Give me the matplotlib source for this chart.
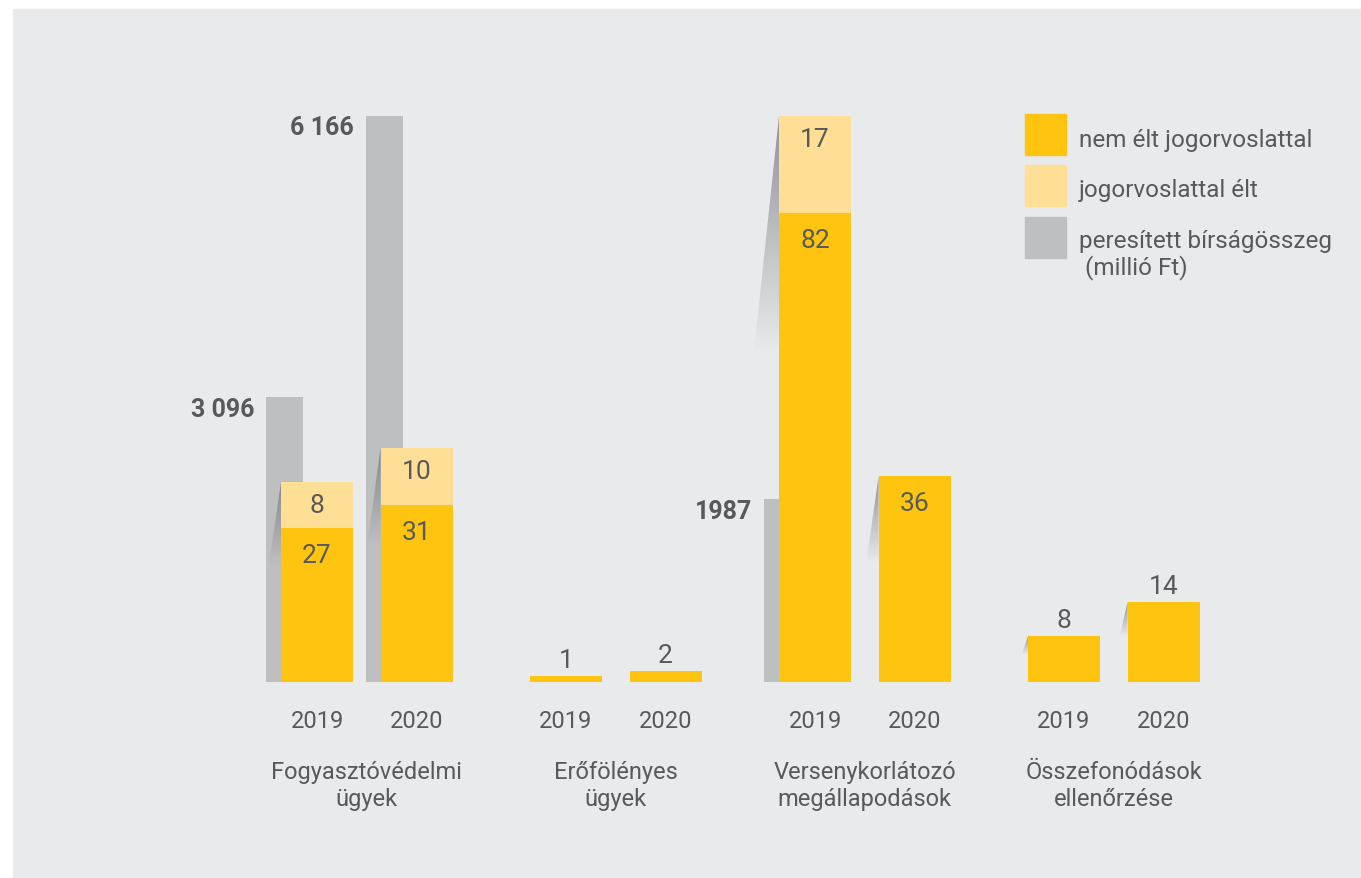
import numpy as np
import matplotlib.pyplot as plt
from matplotlib.patches import Rectangle, Polygon

plt.rcParams['font.family'] = ['Roboto', 'DejaVu Sans']

categories = [['Fogyasztóvédelmi', 'ügyek'],
              ['Erőfölényes', 'ügyek'],
              ['Versenykorlátozó', 'megállapodások'],
              ['Összefonódások', 'ellenőrzése']]
years = ['2019', '2020']

# one value per (category, year), in the order of the bars
no_appeal = [27, 31, 1, 2, 82, 36, 8, 14]
appeal = [8, 10, 0, 0, 17, 0, 0, 0]
fines = [3096, 6166, 0, 0, 1987, 0, 0, 0]
fine_labels = ['3 096', '6 166', '', '', '1987', '', '', '']

legend_labels = ['nem élt jogorvoslattal', 'jogorvoslattal élt',
                 'peresített bírságösszeg\n (millió Ft)']

YELLOW = '#fec40f'
LIGHT = '#ffdf95'
GREY = '#bebfc1'
PANEL = '#e9eaec'
TEXT = '#58595b'

W, H = 1361, 879
fig = plt.figure(figsize=(W / 100, H / 100), dpi=100, facecolor='white')
fig.add_artist(Rectangle((13 / W, 0), 1 - 13 / W, (H - 10) / H,
                         transform=fig.transFigure, color=PANEL, zorder=0))

ax = fig.add_axes([0, (H - 683) / H, 1, 566 / H])
ax2 = ax.twinx()
ax.set_zorder(2)
ax2.set_zorder(1)
for a in (ax, ax2):
    a.patch.set_visible(False)
    a.axis('off')

groups = np.arange(4) * 2.5
x = (groups[:, None] + np.array([0, 1])).ravel()
bar_w = 0.723
fine_w = 0.371
fine_shift = -0.326

no_appeal = np.array(no_appeal)
appeal = np.array(appeal)
totals = no_appeal + appeal

ax.bar(x, no_appeal, width=bar_w, color=YELLOW, zorder=3)
ax.bar(x, appeal, bottom=no_appeal, width=bar_w, color=LIGHT, zorder=3)
ax2.bar(x + fine_shift, fines, width=fine_w, color=GREY, zorder=1)

# soft shadow wedge on the left side of each taller bar
grad = np.zeros((64, 2, 4))
grad[..., :3] = np.array([0.45, 0.46, 0.48])
grad[..., 3] = np.linspace(0.75, 0.0, 64)[:, None]
px_x = 99.6
px_y = 566 / 99
for xi, t in zip(x, totals):
    if t < 5:
        continue
    h = t * px_y
    L = 0.42 * h / px_y
    dx = (5 + 0.085 * 0.42 * h) / px_x
    xl = xi - bar_w / 2
    tri = Polygon([(xl, t), (xl - dx, t - L), (xl, t - L)],
                  closed=True, transform=ax.transData, facecolor='none',
                  edgecolor='none')
    im = ax.imshow(grad, extent=[xl - dx, xl, t - L, t], aspect='auto',
                   interpolation='bilinear', zorder=2)
    im.set_clip_path(tri)

# value labels
for xi, n, a, t in zip(x, no_appeal, appeal, totals):
    if t <= 14:
        ax.annotate(str(n), (xi, t), xytext=(0, 16), textcoords='offset pixels',
                    ha='center', va='center', fontsize=19, color=TEXT)
        continue
    ax.annotate(str(n), (xi, n), xytext=(0, -27), textcoords='offset pixels',
                ha='center', va='center', fontsize=19, color=TEXT)
    if a:
        ax.annotate(str(a), (xi, t), xytext=(0, -23), textcoords='offset pixels',
                    ha='center', va='center', fontsize=19, color=TEXT)

for xi, v, lab in zip(x, fines, fine_labels):
    if v:
        ax2.annotate(lab, (xi + fine_shift - fine_w / 2, v), xytext=(-12, -12),
                     textcoords='offset pixels', ha='right', va='center',
                     fontsize=18, fontweight='bold', color=TEXT,
                     annotation_clip=False)

# year and category labels under the bars
for i, xi in enumerate(x):
    ax.annotate(years[i % 2], (xi, 0), xytext=(0, -39), textcoords='offset pixels',
                ha='center', va='center', fontsize=17, color=TEXT)
for g, cat in zip(groups, categories):
    ax.annotate('\n'.join(cat), (g + 0.5, 0), xytext=(0, -103),
                textcoords='offset pixels', ha='center', va='center',
                fontsize=17, color=TEXT, linespacing=1.25)

# legend
tf = fig.transFigure
for i, (c, lab) in enumerate(zip([YELLOW, LIGHT, GREY], legend_labels)):
    top = [115, 166, 218][i]
    fig.add_artist(Rectangle((1025 / W, 1 - (top + 41) / H), 41 / W, 41 / H,
                             transform=tf, color=c, zorder=3))
    yc = top + 25 if i < 2 else top + 37
    fig.text(1079 / W, 1 - yc / H, lab, ha='left', va='center', fontsize=17.5,
             color=TEXT, linespacing=1.12)

ax.set_xlim(-317 / px_x, (W - 317) / px_x)
ax.set_ylim(0, 99)
ax2.set_ylim(0, 6155)

fig.savefig('out.png', dpi=100, facecolor='white')
